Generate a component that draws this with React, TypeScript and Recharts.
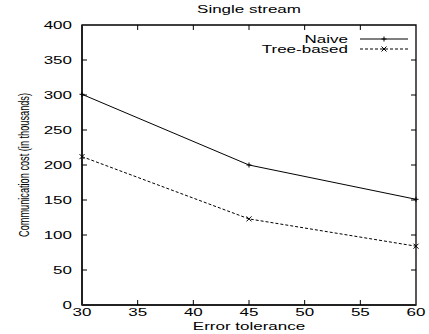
import { Legend, Line, LineChart, ReferenceArea, XAxis, YAxis } from 'recharts';

// error tolerance on the x axis
const tolerance = [30, 45, 60];
// communication cost, in thousands
const naive = [301, 200, 151];
const treeBased = [212, 123, 84];

const xTicks = [30, 35, 40, 45, 50, 55, 60];
const yTicks = [0, 50, 100, 150, 200, 250, 300, 350, 400];

const W = 429;
const H = 334;
const M = { top: 25, right: 13, left: 0, bottom: 0 };
const Y_W = 82;
const X_H = 29;
const PLOT_W = W - M.left - M.right - Y_W;
const PLOT_H = H - M.top - M.bottom - X_H;
const TICK = 5;
const SX = 1.7; // the picture is stretched sideways, so is the text

const FONT = '"Liberation Sans", Arial, Helvetica, sans-serif';

const data = tolerance.map((t, i) => ({ t, naive: naive[i], tree: treeBased[i] }));

const series = [
  { key: 'naive', name: 'Naive', dash: undefined, mark: 'plus' },
  { key: 'tree', name: 'Tree-based', dash: '3 2', mark: 'cross' },
];

const Mark = ({ cx, cy, kind }: any) => {
  if (cx == null || cy == null) return null;
  const s = 2.5;
  return kind === 'plus' ? (
    <g stroke="#000" strokeWidth={1}>
      <line x1={cx - s} y1={cy} x2={cx + s} y2={cy} />
      <line x1={cx} y1={cy - s} x2={cx} y2={cy + s} />
    </g>
  ) : (
    <g stroke="#000" strokeWidth={1}>
      <line x1={cx - s} y1={cy - s} x2={cx + s} y2={cy + s} />
      <line x1={cx - s} y1={cy + s} x2={cx + s} y2={cy - s} />
    </g>
  );
};

const Txt = ({ x, y, anchor = 'middle', rotate = 0, children }: any) => (
  <text
    transform={`translate(${x},${y}) scale(${SX},1) rotate(${rotate})`}
    textAnchor={anchor}
    dy="0.35em"
    fontSize={10}
    fontFamily={FONT}
    fill="#000"
  >
    {children}
  </text>
);

// y tick label plus the inner marks on both sides
const YTick = ({ x, y, payload }: any) => {
  const ax = x + 10;
  return (
    <g>
      <Txt x={x} y={y} anchor="end">{payload.value}</Txt>
      {payload.value !== 0 && payload.value !== 400 && (
        <g stroke="#000" strokeWidth={1}>
          <line x1={ax} y1={y} x2={ax + TICK} y2={y} />
          <line x1={ax + PLOT_W - TICK} y1={y} x2={ax + PLOT_W} y2={y} />
        </g>
      )}
    </g>
  );
};

// x tick label plus the inner marks at bottom and top
const XTick = ({ x, y, payload }: any) => {
  const ay = y - 7;
  return (
    <g>
      <Txt x={x} y={y}>{payload.value}</Txt>
      {payload.value !== 30 && payload.value !== 60 && (
        <g stroke="#000" strokeWidth={1}>
          <line x1={x} y1={ay} x2={x} y2={ay - TICK} />
          <line x1={x} y1={ay - PLOT_H + TICK} x2={x} y2={ay - PLOT_H} />
        </g>
      )}
    </g>
  );
};

const KeyBox = ({ payload }: any) => (
  <svg width={W} height={60} style={{ display: 'block' }}>
    {(payload || []).map((entry: any, i: number) => {
      const s = series.find(v => v.name === entry.value) || series[i];
      const y = 39 + i * 10;
      return (
        <g key={s.key}>
          <Txt x={348} y={y} anchor="end">{s.name}</Txt>
          <line x1={360} y1={y} x2={408} y2={y} stroke="#000" strokeWidth={1} strokeDasharray={s.dash} />
          <Mark cx={384} cy={y} kind={s.mark} />
        </g>
      );
    })}
  </svg>
);

export default function App() {
  return (
    <div style={{ position: 'absolute', left: 0, top: 0, background: '#fff' }}>
      <LineChart width={W} height={H} data={data} margin={M}>
        <XAxis
          dataKey="t"
          type="number"
          domain={[30, 60]}
          ticks={xTicks}
          height={X_H}
          tickSize={0}
          tickMargin={7}
          tick={<XTick />}
          axisLine={{ stroke: '#222', strokeWidth: 2 }}
          tickLine={false}
        />
        <YAxis
          type="number"
          domain={[0, 400]}
          ticks={yTicks}
          width={Y_W}
          tickSize={0}
          tickMargin={10}
          tick={<YTick />}
          axisLine={{ stroke: '#222', strokeWidth: 2 }}
          tickLine={false}
        />
        <ReferenceArea x1={30} x2={60} y1={0} y2={400} fill="none" stroke="#000" strokeWidth={1.3} />
        <Legend
          verticalAlign="middle"
          layout="horizontal"
          content={<KeyBox />}
          wrapperStyle={{ top: 0, left: 0, width: W, height: 60 }}
        />
        {series.map(s => (
          <Line
            key={s.key}
            dataKey={s.key}
            name={s.name}
            stroke="#000"
            strokeWidth={1}
            strokeDasharray={s.dash}
            dot={(p: any) => <Mark key={`${s.key}-${p.index}`} cx={p.cx} cy={p.cy} kind={s.mark} />}
            activeDot={false}
            isAnimationActive={false}
          />
        ))}
        <Txt x={Y_W + PLOT_W / 2} y={9}>Single stream</Txt>
        <Txt x={Y_W + PLOT_W / 2} y={326}>Error tolerance</Txt>
        <text
          transform={`translate(24,${M.top + PLOT_H / 2}) scale(1.55,1) rotate(-90)`}
          textAnchor="middle"
          dy="0.35em"
          fontSize={9.2}
          fontFamily={FONT}
          fill="#000"
        >
          Communication cost (in thousands)
        </text>
      </LineChart>
    </div>
  );
}
